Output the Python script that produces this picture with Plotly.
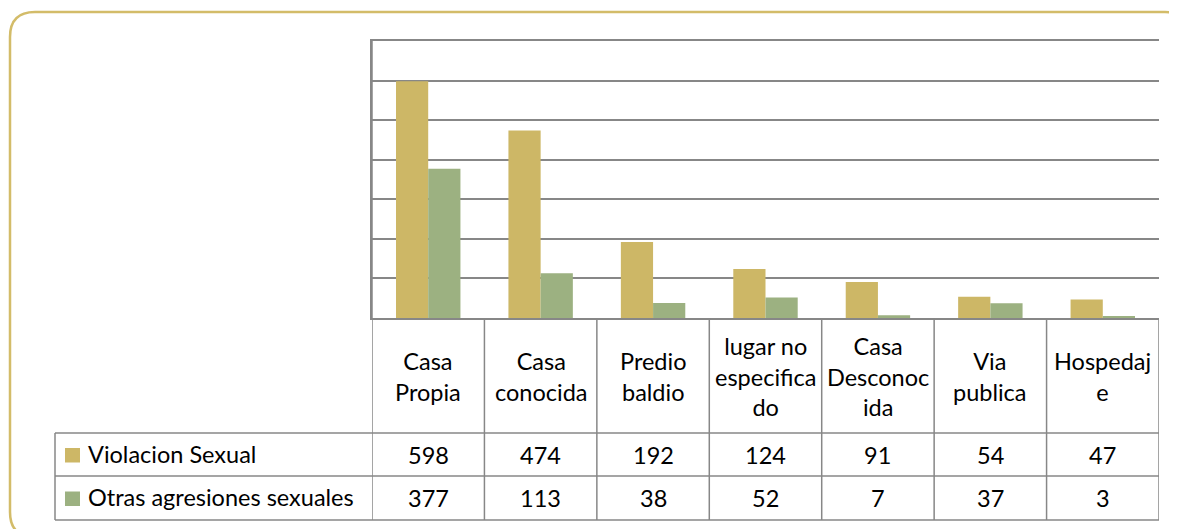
import plotly.graph_objects as go

categories = ["Casa Propia", "Casa conocida", "Predio baldio", "lugar no especificado",
              "Casa Desconocida", "Via publica", "Hospedaje"]
category_labels = ["Casa<br>Propia", "Casa<br>conocida", "Predio<br>baldio",
                   "lugar no<br>especifica<br>do", "Casa<br>Desconoc<br>ida",
                   "Via<br>publica", "Hospedaj<br>e"]
series_names = ["Violacion Sexual", "Otras agresiones sexuales"]
violacion = [598, 474, 192, 124, 91, 54, 47]
otras = [377, 113, 38, 52, 7, 37, 3]

OFF = 8  # page body margin
W, H = 1177 - OFF, 529 - OFF
GOLD = "#CDB766"
GREEN = "#9CB181"
LINE = "#878787"
BORDER = "#D3BC69"
FONT = "Lato"

def px(x):
    return (x - OFF) / W

def py(y):
    return 1 - (y - OFF) / H

fig = go.Figure()
fig.add_trace(go.Bar(x=categories, y=violacion, name=series_names[0], marker_color=GOLD,
                     marker_line_width=0))
fig.add_trace(go.Bar(x=categories, y=otras, name=series_names[1], marker_color=GREEN,
                     marker_line_width=0))

plot_left, plot_right, plot_top, plot_bottom = 372, 1159, 41, 318
row1, row2, row3 = 433, 476, 520
table_left = 55

shapes = []
# outer rounded border
r = 25
x0, y0, x1, y1 = 10, 12, 1190, 537
path = (f"M {px(x0+r)},{py(y0)} L {px(x1-r)},{py(y0)} Q {px(x1)},{py(y0)} {px(x1)},{py(y0+r)} "
        f"L {px(x1)},{py(y1-r)} Q {px(x1)},{py(y1)} {px(x1-r)},{py(y1)} "
        f"L {px(x0+r)},{py(y1)} Q {px(x0)},{py(y1)} {px(x0)},{py(y1-r)} "
        f"L {px(x0)},{py(y0+r)} Q {px(x0)},{py(y0)} {px(x0+r)},{py(y0)} Z")
shapes.append(dict(type="path", path=path, xref="paper", yref="paper",
                   line=dict(color=BORDER, width=2.5), layer="below"))

n = len(categories)
# vertical table lines at category boundaries
for i in range(n + 1):
    ytop = plot_top if i == 0 else plot_bottom
    shapes.append(dict(type="line", xref="x", yref="paper", x0=i - 0.5, x1=i - 0.5,
                       y0=py(ytop), y1=py(row3), line=dict(color=LINE, width=1.5)))
# left edge of legend cells
shapes.append(dict(type="line", xref="paper", yref="paper", x0=px(table_left), x1=px(table_left),
                   y0=py(row1), y1=py(row3), line=dict(color=LINE, width=1.5)))
# horizontal lines
for yy in (row1, row2, row3):
    shapes.append(dict(type="line", xref="paper", yref="paper", x0=px(table_left), x1=px(plot_right),
                       y0=py(yy), y1=py(yy), line=dict(color=LINE, width=1.5)))
# legend keys
for k, col in enumerate((GOLD, GREEN)):
    yc = (row1 + row2) / 2 if k == 0 else (row2 + row3) / 2
    shapes.append(dict(type="rect", xref="paper", yref="paper", x0=px(65), x1=px(80),
                       y0=py(yc - 6.5), y1=py(yc + 8), fillcolor=col, line=dict(width=0)))

annotations = []
fs = 23.5
for i, lab in enumerate(category_labels):
    annotations.append(dict(x=categories[i], xref="x", y=py(376), yref="paper", text=lab,
                            showarrow=False, xanchor="center", yanchor="middle", align="center",
                            font=dict(family=FONT, size=fs, color="#000")))
    annotations.append(dict(x=categories[i], xref="x", y=py((row1 + row2) / 2), yref="paper",
                            text=str(violacion[i]), showarrow=False, xanchor="center",
                            yanchor="middle", font=dict(family=FONT, size=fs, color="#000")))
    annotations.append(dict(x=categories[i], xref="x", y=py((row2 + row3) / 2), yref="paper",
                            text=str(otras[i]), showarrow=False, xanchor="center",
                            yanchor="middle", font=dict(family=FONT, size=fs, color="#000")))
for k, name in enumerate(series_names):
    yc = (row1 + row2) / 2 if k == 0 else (row2 + row3) / 2
    annotations.append(dict(x=px(86), xref="paper", y=py(yc - 1), yref="paper", text=name,
                            showarrow=False, xanchor="left", yanchor="middle",
                            font=dict(family=FONT, size=fs, color="#000")))

fig.update_layout(
    width=W, height=H, margin=dict(l=0, r=0, t=0, b=0),
    paper_bgcolor="white", plot_bgcolor="white",
    barmode="group", bargap=0.427, bargroupgap=0,
    showlegend=False,
    xaxis=dict(domain=[px(plot_left), px(plot_right)], range=[-0.5, n - 0.5],
               showticklabels=False, ticks="", showgrid=False, zeroline=False,
               showline=True, mirror=True, linecolor=LINE, linewidth=1.5),
    yaxis=dict(domain=[py(plot_bottom), py(plot_top)], range=[0, 700], dtick=100,
               showticklabels=False, ticks="", showgrid=True, gridcolor=LINE, gridwidth=1.5,
               zeroline=False, showline=True, linecolor=LINE, linewidth=1.5),
    shapes=shapes, annotations=annotations,
)

fig.write_html("out.html")
